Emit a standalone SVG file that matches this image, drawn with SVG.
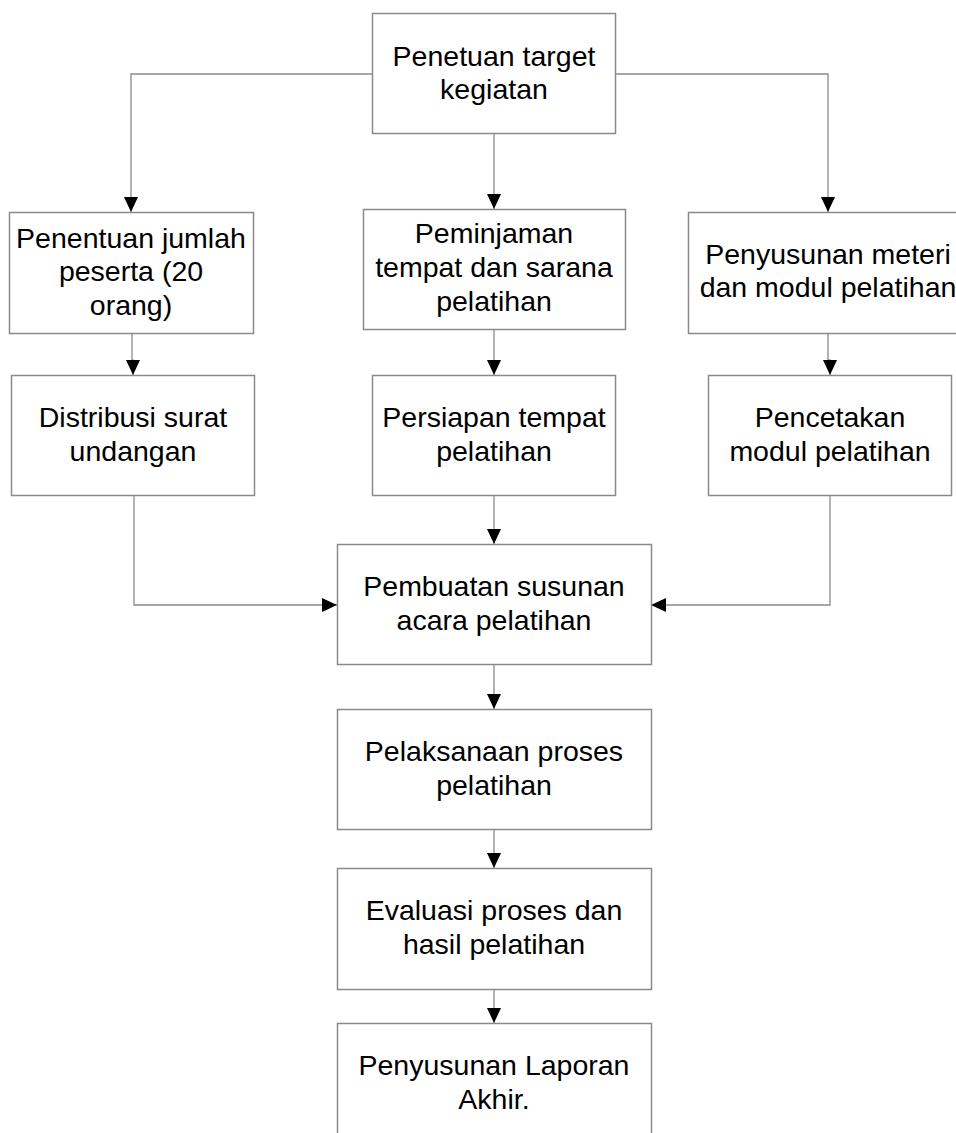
<svg xmlns="http://www.w3.org/2000/svg" width="956" height="1133" viewBox="0 0 956 1133">
<style>
.box{fill:#ffffff;stroke:#8a8a8a;stroke-width:1.5}
.ln{fill:none;stroke:#8a8a8a;stroke-width:1.3}
text{font-family:"Liberation Sans",Arial,sans-serif;font-size:28.5px;fill:#000;text-anchor:middle}
</style>
<defs>
<marker id="ah" markerWidth="15" markerHeight="14" refX="15" refY="7" orient="auto" markerUnits="userSpaceOnUse">
<path d="M0,0 L15,7 L0,14 Z" fill="#000"/>
</marker>
</defs>
<rect width="956" height="1133" fill="#fff"/>
<g id="connectors">
<path class="ln" d="M372,74 H131 V212" marker-end="url(#ah)"/>
<path class="ln" d="M615,74 H828 V212" marker-end="url(#ah)"/>
<path class="ln" d="M494,134 V209" marker-end="url(#ah)"/>
<path class="ln" d="M132,333 V360 H133 V375" marker-end="url(#ah)"/>
<path class="ln" d="M494,329 V375" marker-end="url(#ah)"/>
<path class="ln" d="M828,333 V360 H830 V375" marker-end="url(#ah)"/>
<path class="ln" d="M134,496 V605 H337" marker-end="url(#ah)"/>
<path class="ln" d="M830,496 V605 H651" marker-end="url(#ah)"/>
<path class="ln" d="M494,496 V544" marker-end="url(#ah)"/>
<path class="ln" d="M494,664 V709" marker-end="url(#ah)"/>
<path class="ln" d="M494,829 V868" marker-end="url(#ah)"/>
<path class="ln" d="M494,990 V1023" marker-end="url(#ah)"/>
</g>
<g id="n1"><rect class="box" x="372.5" y="13.5" width="243" height="120"/>
<text x="494" y="65.5">Penetuan target</text><text x="494" y="99">kegiatan</text></g>
<g id="n2"><rect class="box" x="9.5" y="212.5" width="244" height="121"/>
<text x="131" y="247.5">Penentuan jumlah</text><text x="131" y="281">peserta (20</text><text x="131" y="314.5">orang)</text></g>
<g id="n3"><rect class="box" x="363.5" y="209.5" width="262" height="120"/>
<text x="494" y="243">Peminjaman</text><text x="494" y="277">tempat dan sarana</text><text x="494" y="310.5">pelatihan</text></g>
<g id="n4"><rect class="box" x="688.5" y="212.5" width="280" height="121"/>
<text x="828" y="263.5">Penyusunan meteri</text><text x="828" y="297">dan modul pelatihan</text></g>
<g id="n5"><rect class="box" x="11.5" y="375.5" width="243" height="120"/>
<text x="133" y="427">Distribusi surat</text><text x="133" y="461">undangan</text></g>
<g id="n6"><rect class="box" x="372.5" y="375.5" width="243" height="120"/>
<text x="494" y="427">Persiapan tempat</text><text x="494" y="461">pelatihan</text></g>
<g id="n7"><rect class="box" x="708.5" y="375.5" width="243" height="120"/>
<text x="830" y="427">Pencetakan</text><text x="830" y="461">modul pelatihan</text></g>
<g id="n8"><rect class="box" x="337.5" y="544.5" width="314" height="120"/>
<text x="494" y="596">Pembuatan susunan</text><text x="494" y="630">acara pelatihan</text></g>
<g id="n9"><rect class="box" x="337.5" y="709.5" width="314" height="120"/>
<text x="494" y="761">Pelaksanaan proses</text><text x="494" y="795">pelatihan</text></g>
<g id="n10"><rect class="box" x="337.5" y="868.5" width="314" height="121"/>
<text x="494" y="920">Evaluasi proses dan</text><text x="494" y="954">hasil pelatihan</text></g>
<g id="n11"><rect class="box" x="337.5" y="1023.5" width="314" height="130"/>
<text x="494" y="1075">Penyusunan Laporan</text><text x="494" y="1109">Akhir.</text></g>
</svg>
